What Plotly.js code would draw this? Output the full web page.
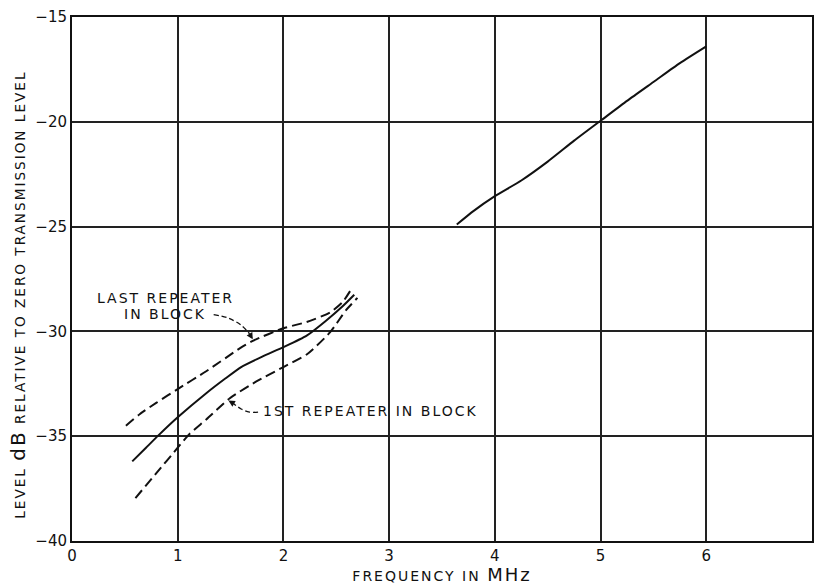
<!DOCTYPE html>
<html>
<head>
<meta charset="utf-8">
<script src="https://cdn.plot.ly/plotly-3.0.1.min.js"></script>
<style>
html,body{margin:0;padding:0;background:#fff;}
#chart{width:816px;height:585px;}
.annotation-text{letter-spacing:2px;}
.xtitle{letter-spacing:2px;}
</style>
</head>
<body>
<div id="chart"></div>
<script>
// Upper band curve (solid, right)
const upperX = [3.64, 3.8, 4.0, 4.25, 4.5, 4.75, 5.0, 5.25, 5.5, 5.75, 6.0];
const upperY = [-24.9, -24.25, -23.55, -22.8, -21.9, -20.9, -19.95, -19.0, -18.1, -17.2, -16.4];

// Last repeater in block (dashed, top)
const lastX = [0.51, 0.64, 0.8, 1.0, 1.27, 1.59, 1.71, 2.0, 2.22, 2.44, 2.56, 2.64];
const lastY = [-34.5, -33.95, -33.4, -32.75, -31.9, -30.8, -30.45, -29.85, -29.55, -29.1, -28.6, -28.0];

// Middle (solid)
const midX = [0.57, 0.7, 0.82, 1.0, 1.27, 1.45, 1.6, 1.8, 2.0, 2.22, 2.4, 2.56, 2.67];
const midY = [-36.2, -35.55, -34.95, -34.1, -32.95, -32.25, -31.7, -31.2, -30.75, -30.2, -29.5, -28.8, -28.25];

// 1st repeater in block (dashed, bottom)
const firstX = [0.6, 0.8, 1.0, 1.11, 1.27, 1.49, 1.74, 2.0, 2.22, 2.44, 2.59, 2.7];
const firstY = [-37.95, -36.75, -35.55, -34.9, -34.2, -33.2, -32.4, -31.7, -31.1, -30.05, -29.0, -28.4];

// Leader curves for labels
const leaderLastX = [1.34, 1.47, 1.6, 1.68];
const leaderLastY = [-29.2, -29.35, -29.7, -30.12];
const leaderFirstX = [1.76, 1.68, 1.6, 1.53];
const leaderFirstY = [-33.85, -33.85, -33.7, -33.45];

const labelLast1 = "LAST REPEATER";
const labelLast2 = "IN BLOCK";
const labelFirst = "1ST REPEATER IN BLOCK";

const xTitle = 'FREQUENCY IN <span style="font-size:18px">MHz</span>';
const yTitle = 'LEVEL <span style="font-size:20px">dB</span> RELATIVE TO ZERO TRANSMISSION LEVEL';

const FONT = "DejaVu Sans, Liberation Sans, sans-serif";
const ln = {color: "#111", width: 2, shape: "spline", smoothing: 0.6};

const traces = [
  {x: upperX, y: upperY, mode: "lines", line: Object.assign({}, ln)},
  {x: lastX, y: lastY, mode: "lines", line: Object.assign({dash: "10px,5px"}, ln)},
  {x: midX, y: midY, mode: "lines", line: Object.assign({}, ln)},
  {x: firstX, y: firstY, mode: "lines", line: Object.assign({dash: "10px,5px"}, ln)},
  {x: leaderLastX, y: leaderLastY, mode: "lines", line: {color: "#111", width: 1.3, dash: "5px,3px", shape: "spline"}},
  {x: leaderFirstX, y: leaderFirstY, mode: "lines", line: {color: "#111", width: 1.3, dash: "5px,3px", shape: "spline"}}
];

const annotations = [
  {x: 0.88, y: -28.4, xref: "x", yref: "y", text: labelLast1, showarrow: false,
   font: {family: FONT, size: 14, color: "#111"}},
  {x: 0.88, y: -29.16, xref: "x", yref: "y", text: labelLast2, showarrow: false,
   font: {family: FONT, size: 14, color: "#111"}},
  {x: leaderFirstX[0] + 0.03, y: -33.8, xref: "x", yref: "y", text: labelFirst, showarrow: false, xanchor: "left",
   font: {family: FONT, size: 14, color: "#111"}},
  {x: 1.71, y: -30.38, ax: leaderLastX[3], ay: leaderLastY[3], xref: "x", yref: "y", axref: "x", ayref: "y",
   text: "", showarrow: true, arrowhead: 2, arrowsize: 1, arrowwidth: 1.3, arrowcolor: "#111"},
  {x: 1.48, y: -33.3, ax: leaderFirstX[3], ay: leaderFirstY[3], xref: "x", yref: "y", axref: "x", ayref: "y",
   text: "", showarrow: true, arrowhead: 2, arrowsize: 1, arrowwidth: 1.3, arrowcolor: "#111"},
  {x: -0.073, y: 0.47, xref: "paper", yref: "paper", xanchor: "center", yanchor: "middle",
   text: yTitle, showarrow: false, textangle: -90,
   font: {family: FONT, size: 13.6, color: "#111"}}
];

const layout = {
  width: 816, height: 585,
  margin: {l: 72, r: 4, t: 17, b: 44, pad: 0},
  paper_bgcolor: "#fff", plot_bgcolor: "#fff",
  showlegend: false,
  font: {family: FONT, size: 14, color: "#111"},
  xaxis: {
    range: [0, 7], dtick: 1, tick0: 0, showgrid: true, gridcolor: "#222", gridwidth: 2,
    zeroline: false, showline: true, linecolor: "#111", linewidth: 2, mirror: true,
    ticks: "", ticklen: 0, automargin: false, fixedrange: true,
    tickfont: {family: FONT, size: 15, color: "#111"},
    title: {text: xTitle, standoff: 6, font: {family: FONT, size: 14, color: "#111"}}
  },
  yaxis: {
    range: [-40, -15], dtick: 5, tick0: -40, showgrid: true, gridcolor: "#222", gridwidth: 2,
    zeroline: false, showline: true, linecolor: "#111", linewidth: 2, mirror: true,
    ticks: "", ticklen: 0, automargin: false, fixedrange: true,
    tickfont: {family: FONT, size: 15, color: "#111"}
  },
  annotations: annotations
};

Plotly.newPlot("chart", traces, layout, {displayModeBar: false, staticPlot: true});
</script>
</body>
</html>
